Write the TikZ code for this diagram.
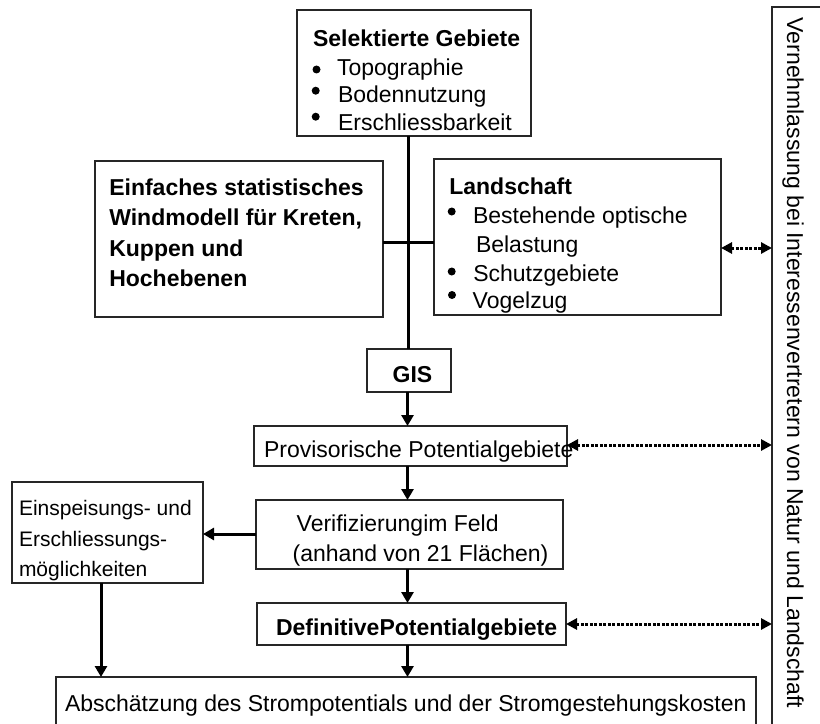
\documentclass[tikz,border=0pt]{standalone}
\usepackage{fontspec}
\setmainfont{Liberation Sans}
\usetikzlibrary{arrows.meta}
\begin{document}
\begin{tikzpicture}[x=1bp,y=-1bp,
 box/.style={draw=black!85,line width=1.3bp,inner sep=0,outer sep=0,anchor=north west},
 txt/.style={inner sep=0,outer sep=0,anchor=base west,font=\fontsize{23bp}{28bp}\selectfont},
 btxt/.style={txt,font=\fontsize{23bp}{28bp}\selectfont\bfseries},
 stxt/.style={txt,font=\fontsize{21bp}{26bp}\selectfont},
 bul/.style={circle,fill=black,inner sep=0,outer sep=0,minimum size=8bp},
 trunkline/.style={line width=3bp},
 arr/.style={line width=3bp,-{Triangle[length=11bp,width=12bp]}},
 dotarr/.style={line width=3bp,dash pattern=on 3bp off 1.5bp,{Triangle[length=11bp,width=11bp]}-{Triangle[length=11bp,width=11bp]}}]
\useasboundingbox (0,0) rectangle (820,724);
\clip (0,0) rectangle (820,724);
\fill[white] (0,0) rectangle (820,724);

% boxes
\node[box,minimum width=234bp,minimum height=126bp] (sel) at (297,10) {};
\node[box,minimum width=288bp,minimum height=156bp] (wind) at (95,161) {};
\node[box,minimum width=287bp,minimum height=156bp] (land) at (434,159) {};
\node[box,minimum width=84bp,minimum height=43bp] (gis) at (367,349) {};
\node[box,minimum width=313bp,minimum height=40bp] (prov) at (254,426) {};
\node[box,minimum width=307bp,minimum height=69bp] (veri) at (256,500) {};
\node[box,minimum width=191bp,minimum height=101bp] (eins) at (12,482) {};
\node[box,minimum width=309bp,minimum height=42bp] (defi) at (257,603) {};
\node[box,minimum width=700bp,minimum height=70bp] (absch) at (56,677) {};
\node[box,minimum width=70bp,minimum height=760bp] (verne) at (772,7) {};

% helper coordinates
\coordinate (trunk) at (408,0);
\coordinate (ax) at (407.5,0);
\coordinate (junc) at (408,242);
\coordinate (sidey) at (0,534);
\coordinate (einsx) at (101,0);
\coordinate (landy) at (0,248);
\coordinate (provy) at (0,445);
\coordinate (defiy) at (0,624);

% bullets
\node[bul] (b1) at (316.5,69.5) {};
\node[bul] (b2) at (315.7,90.7) {};
\node[bul] (b3) at (315.7,116.7) {};
\node[bul] (lb1) at (451.7,211.5) {};
\node[bul] (lb2) at (451.7,271.5) {};
\node[bul] (lb3) at (452,295) {};

% texts
\node[btxt] (t1) at (313,47) {Selektierte Gebiete};
\node[txt] (t2) at (337,75.3) {Topographie};
\node[txt] (t3) at (338,103) {Bodennutzung};
\node[txt] (t4) at (338,130.7) {Erschliessbarkeit};

\node[btxt] (w1) at (109.3,195) {Einfaches statistisches};
\node[btxt] (w2) at (109.3,225.7) {Windmodell für Kreten,};
\node[btxt] (w3) at (109.3,256) {Kuppen und};
\node[btxt] (w4) at (109.3,286.7) {Hochebenen};

\node[btxt] (l1) at (449.3,194) {Landschaft};
\node[txt] (l2) at (473,223.3) {Bestehende optische};
\node[txt] (l3) at (476,252.3) {Belastung};
\node[txt] (l4) at (473.3,281) {Schutzgebiete};
\node[txt] (l5) at (472.7,308.3) {Vogelzug};

\node[btxt] (g1) at (392.7,382.3) {GIS};
\node[txt] (p1) at (264,457) {Provisorische Potentialgebiete};
\node[txt] (v1) at (296.7,531.5) {Verifizierungim Feld};
\node[txt] (v2) at (292.7,561) {(anhand von 21 Flächen)};
\node[stxt] (e1) at (19,515) {Einspeisungs- und};
\node[stxt] (e2) at (19,546) {Erschliessungs-};
\node[stxt] (e3) at (19,576.7) {möglichkeiten};
\node[btxt] (d1) at (276,635) {DefinitivePotentialgebiete};
\node[txt] (a1) at (65,711) {Abschätzung des Strompotentials und der Stromgestehungskosten};
\node[rotate=-90,inner sep=0,outer sep=0,font=\fontsize{23bp}{28bp}\selectfont] (vt) at (793,363) {Vernehmlassung bei Interessenvertretern von Natur und Landschaft};

% connectors
\draw[trunkline] (sel.south -| trunk) -- (gis.north -| trunk);
\draw[trunkline] (wind.east |- junc) -- (land.west |- junc);
\draw[arr] (gis.south -| ax) -- (prov.north -| ax);
\draw[arr] (prov.south -| ax) -- (veri.north -| ax);
\draw[arr] (veri.south -| ax) -- (defi.north -| ax);
\draw[arr] (defi.south -| ax) -- (absch.north -| ax);
\draw[arr] (veri.west |- sidey) -- (eins.east |- sidey);
\draw[arr] (eins.south -| einsx) -- (absch.north -| einsx);
\draw[dotarr] (land.east |- landy) -- (verne.west |- landy);
\draw[dotarr] (prov.east |- provy) -- (verne.west |- provy);
\draw[dotarr] (defi.east |- defiy) -- (verne.west |- defiy);
\end{tikzpicture}
\end{document}
